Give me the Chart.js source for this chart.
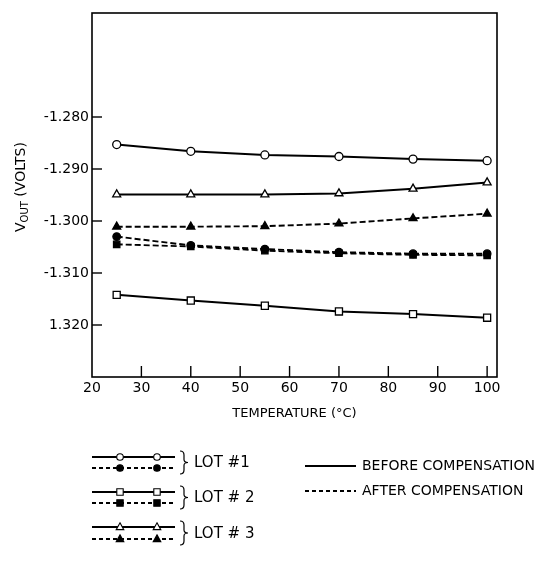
<!DOCTYPE html>
<html><head><meta charset="utf-8">
<script src="https://cdn.jsdelivr.net/npm/chart.js@4.4.0/dist/chart.umd.min.js"></script>
<style>html,body{margin:0;padding:0;background:#fff}#c{display:block}</style>
</head><body>
<canvas id="c" width="545" height="573"></canvas>
<script>
// ---- data ----
const temps = [25, 40, 55, 70, 85, 100];
const lot1Before = [-1.2853, -1.2866, -1.2873, -1.2876, -1.2881, -1.2884];
const lot1After  = [-1.3030, -1.3047, -1.3054, -1.3060, -1.3063, -1.3063];
const lot2Before = [-1.3142, -1.3153, -1.3163, -1.3174, -1.3179, -1.3186];
const lot2After  = [-1.3045, -1.3049, -1.3057, -1.3062, -1.3065, -1.3066];
const lot3Before = [-1.2949, -1.2949, -1.2949, -1.2947, -1.2938, -1.2926];
const lot3After  = [-1.3011, -1.3011, -1.3010, -1.3005, -1.2995, -1.2986];
const xTicks = [20, 30, 40, 50, 60, 70, 80, 90, 100];
const yTicks = [-1.28, -1.29, -1.30, -1.31, -1.32];
const yTickLabels = ['-1.280', '-1.290', '-1.300', '-1.310', '1.320'];
const lotNames = ['LOT #1', 'LOT # 2', 'LOT # 3'];
const modeNames = ['BEFORE COMPENSATION', 'AFTER COMPENSATION'];
const xTitle = 'TEMPERATURE (°C)';

const FONT = 'DejaVu Sans';

function pts(vals) { return temps.map((t, i) => ({ x: t, y: vals[i] })); }
function ds(vals, style, radius, dashed, filled) {
  return {
    data: pts(vals),
    borderColor: '#000',
    borderWidth: dashed ? 1.9 : 2,
    borderDash: dashed ? [6, 3] : [],
    pointStyle: style,
    pointRadius: radius,
    pointBorderWidth: 1.3,
    pointBorderColor: '#000',
    pointBackgroundColor: filled ? '#000' : '#fff',
    tension: 0,
    fill: false
  };
}

function marker(ctx, style, x, y, r, filled) {
  ctx.beginPath();
  if (style === 'circle') {
    ctx.arc(x, y, r, 0, Math.PI * 2);
  } else if (style === 'rect') {
    ctx.rect(x - r, y - r, 2 * r, 2 * r);
  } else {
    ctx.moveTo(x, y - r * 1.1);
    ctx.lineTo(x + r, y + r * 0.7);
    ctx.lineTo(x - r, y + r * 0.7);
    ctx.closePath();
  }
  ctx.fillStyle = filled ? '#000' : '#fff';
  ctx.fill();
  ctx.lineWidth = 1.1;
  ctx.strokeStyle = '#000';
  ctx.stroke();
}

const deco = {
  id: 'deco',
  afterDraw(chart) {
    const { ctx, chartArea: a, scales: { x, y } } = chart;
    ctx.save();
    ctx.strokeStyle = '#000';
    ctx.fillStyle = '#000';
    ctx.setLineDash([]);
    // frame
    ctx.lineWidth = 1.6;
    ctx.strokeRect(a.left, a.top, a.right - a.left, a.bottom - a.top);
    // inward tick marks
    ctx.lineWidth = 1.4;
    xTicks.forEach(v => {
      if (v === xTicks[0]) return;
      const px = x.getPixelForValue(v);
      ctx.beginPath(); ctx.moveTo(px, a.bottom); ctx.lineTo(px, a.bottom - 11); ctx.stroke();
    });
    yTicks.forEach(v => {
      const py = y.getPixelForValue(v);
      ctx.beginPath(); ctx.moveTo(a.left, py); ctx.lineTo(a.left + 10, py); ctx.stroke();
    });
    // x title
    ctx.font = '13px "' + FONT + '"';
    ctx.textAlign = 'center';
    ctx.textBaseline = 'middle';
    ctx.fillText(xTitle, (a.left + a.right) / 2, 414);
    // y title: V_OUT (VOLTS)
    ctx.save();
    ctx.translate(21, 187);
    ctx.rotate(-Math.PI / 2);
    ctx.textAlign = 'left';
    const big = '14px "' + FONT + '"', small = '10px "' + FONT + '"';
    ctx.font = big; const wV = ctx.measureText('V').width;
    ctx.font = small; const wO = ctx.measureText('OUT').width;
    ctx.font = big; const wR = ctx.measureText(' (VOLTS)').width;
    let sx = -(wV + wO + wR) / 2;
    ctx.font = big; ctx.fillText('V', sx, 0); sx += wV;
    ctx.font = small; ctx.fillText('OUT', sx, 4); sx += wO;
    ctx.font = big; ctx.fillText(' (VOLTS)', sx, 0);
    ctx.restore();

    // legend: lots
    const rows = [
      { ys: 457, yd: 468, style: 'circle', r: 3.3 },
      { ys: 492, yd: 503, style: 'rect', r: 3.2 },
      { ys: 527, yd: 539, style: 'triangle', r: 3.8 }
    ];
    rows.forEach((row, i) => {
      [[row.ys, false], [row.yd, true]].forEach(([yy, dashed]) => {
        ctx.lineWidth = 1.8;
        ctx.setLineDash(dashed ? [4, 3] : []);
        ctx.beginPath(); ctx.moveTo(92, yy); ctx.lineTo(175, yy); ctx.stroke();
        ctx.setLineDash([]);
        [120, 157].forEach(px => marker(ctx, row.style, px, yy, row.r, dashed));
      });
      // brace
      const bx = 180, bt = row.ys - 6, bb = row.yd + 6, bm = (bt + bb) / 2;
      ctx.lineWidth = 1.2;
      ctx.beginPath();
      ctx.moveTo(bx, bt);
      ctx.quadraticCurveTo(bx + 4, bt, bx + 4, bt + 4);
      ctx.lineTo(bx + 4, bm - 3);
      ctx.quadraticCurveTo(bx + 4, bm, bx + 8, bm);
      ctx.quadraticCurveTo(bx + 4, bm, bx + 4, bm + 3);
      ctx.lineTo(bx + 4, bb - 4);
      ctx.quadraticCurveTo(bx + 4, bb, bx, bb);
      ctx.stroke();
      ctx.fillStyle = '#000';
      ctx.font = '15px "' + FONT + '"';
      ctx.textAlign = 'left';
      ctx.textBaseline = 'middle';
      ctx.fillText(lotNames[i], 194, bm + 1);
    });
    // legend: line styles
    [[466, false], [491, true]].forEach(([yy, dashed], i) => {
      ctx.lineWidth = 1.8;
      ctx.setLineDash(dashed ? [4, 3] : []);
      ctx.beginPath(); ctx.moveTo(305, yy); ctx.lineTo(356, yy); ctx.stroke();
      ctx.setLineDash([]);
      ctx.font = '14px "' + FONT + '"';
      ctx.textAlign = 'left';
      ctx.textBaseline = 'middle';
      ctx.fillText(modeNames[i], 362, yy);
    });
    ctx.restore();
  }
};

new Chart(document.getElementById('c'), {
  type: 'line',
  data: {
    datasets: [
      ds(lot1Before, 'circle', 4, false, false),
      ds(lot3Before, 'triangle', 4.6, false, false),
      ds(lot2Before, 'rect', 5, false, false),
      ds(lot3After, 'triangle', 4.6, true, true),
      ds(lot2After, 'rect', 4.5, true, true),
      ds(lot1After, 'circle', 3.8, true, true)
    ]
  },
  options: {
    responsive: false,
    animation: false,
    events: [],
    layout: { padding: { left: 0, top: 13, right: 48, bottom: 0 } },
    plugins: { legend: { display: false }, tooltip: { enabled: false } },
    scales: {
      x: {
        type: 'linear', min: 20, max: 102,
        afterBuildTicks: s => { s.ticks = xTicks.map(v => ({ value: v })); },
        afterFit: s => { s.height = 196; },
        grid: { display: false, drawTicks: false },
        border: { display: false },
        ticks: { color: '#000', padding: 3, maxRotation: 0, autoSkip: false,
                 font: { family: FONT, size: 14 }, callback: v => String(v) }
      },
      y: {
        type: 'linear', min: -1.33, max: -1.26,
        afterBuildTicks: s => { s.ticks = yTicks.map(v => ({ value: v })); },
        afterFit: s => { s.width = 92; },
        grid: { display: false, drawTicks: false },
        border: { display: false },
        ticks: { color: '#000', padding: 3, autoSkip: false,
                 font: { family: FONT, size: 14 },
                 callback: (v, i) => yTickLabels[i] }
      }
    }
  },
  plugins: [deco]
});
</script>
</body></html>
